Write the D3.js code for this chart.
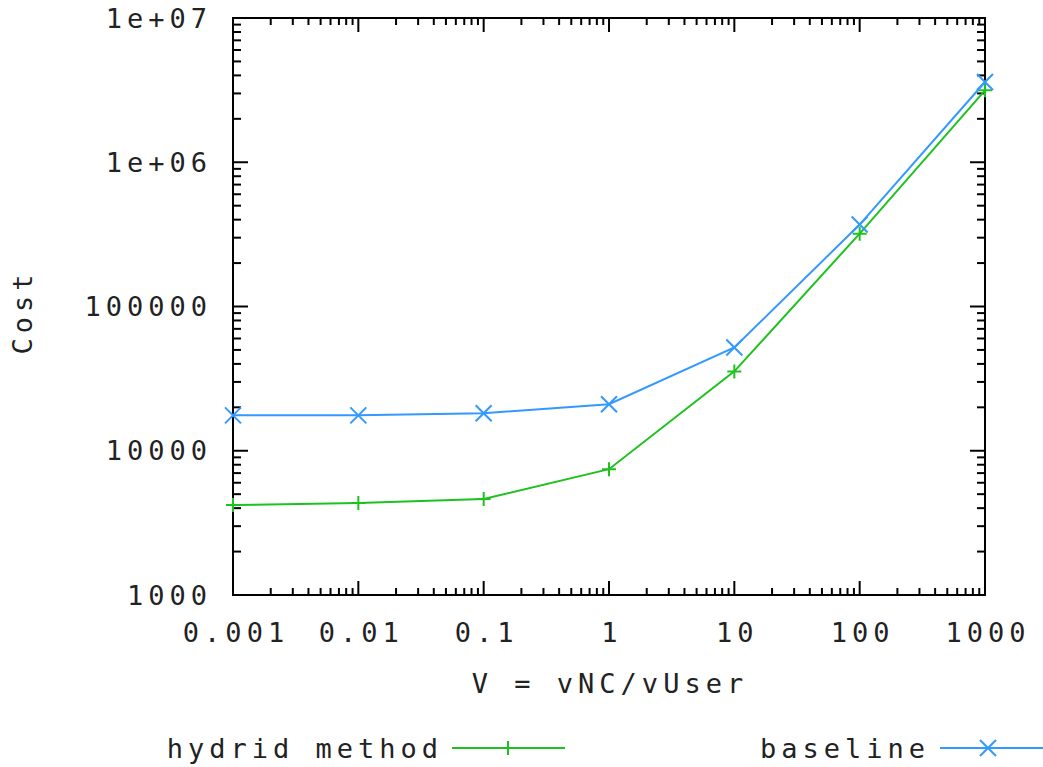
<!DOCTYPE html>
<html>
<head>
<meta charset="utf-8">
<script src="https://cdn.jsdelivr.net/npm/d3@7"></script>
<style>
  body { margin: 0; background: #fff; }
  text { font-family: "DejaVu Sans Mono", monospace; font-size: 27px; letter-spacing: 5px; fill: #222; }
</style>
</head>
<body>
<svg id="chart" width="1043" height="767"></svg>
<script>
// 横軸 V の値
const ratios = [0.001, 0.01, 0.1, 1, 10, 100, 1000];
// 各系列のコスト
const hybridCost   = [4200, 4350, 4630, 7450, 35500, 320000, 3150000];
const baselineCost = [17600, 17600, 18200, 21000, 52000, 370000, 3600000];
// 目盛りラベル
const xTickValues = [0.001, 0.01, 0.1, 1, 10, 100, 1000];
const xTickLabels = ["0.001", "0.01", "0.1", "1", "10", "100", "1000"];
const yTickValues = [1e3, 1e4, 1e5, 1e6, 1e7];
const yTickLabels = ["1000", "10000", "100000", "1e+06", "1e+07"];

const series = [
    { name: "hydrid method", values: hybridCost,   color: "#1ec21e", mark: "plus" },
    { name: "baseline",      values: baselineCost, color: "#3399ff", mark: "cross" },
];

const plotL = 233, plotR = 985, plotT = 18, plotB = 595;
const svg = d3.select("#chart");

const x = d3.scaleLog().domain([0.001, 1000]).range([plotL, plotR]);
const y = d3.scaleLog().domain([1e3, 1e7]).range([plotB, plotT]);

// minor ticks: 2..9 in each decade
function minorTicks(lo, hi) {
    let out = [];
    for (let d = lo; d < hi * 0.999; d *= 10)
        for (let k = 2; k <= 9; k++) out.push(d * k);
    return out;
}

const frame = svg.append("g").attr("class", "frame");

// y ticks on both sides
const yMinor = minorTicks(1e3, 1e7);
[[plotL, 1], [plotR, -1]].forEach(([px, dir]) => {
    frame.selectAll(null).data(yMinor).enter().append("line")
        .attr("x1", px).attr("x2", px + dir * 8)
        .attr("y1", d => y(d)).attr("y2", d => y(d))
        .attr("stroke", "#000").attr("stroke-width", 2);
    frame.selectAll(null).data(yTickValues).enter().append("line")
        .attr("x1", px).attr("x2", px + dir * 15)
        .attr("y1", d => y(d)).attr("y2", d => y(d))
        .attr("stroke", "#000").attr("stroke-width", 2);
});

// x ticks on bottom and top
const xMinor = minorTicks(0.001, 1000);
[[plotB, -1], [plotT, 1]].forEach(([py, dir]) => {
    frame.selectAll(null).data(xMinor).enter().append("line")
        .attr("y1", py).attr("y2", py + dir * 7)
        .attr("x1", d => x(d)).attr("x2", d => x(d))
        .attr("stroke", "#000").attr("stroke-width", 2);
    frame.selectAll(null).data(xTickValues).enter().append("line")
        .attr("y1", py).attr("y2", py + dir * 14)
        .attr("x1", d => x(d)).attr("x2", d => x(d))
        .attr("stroke", "#000").attr("stroke-width", 2);
});

frame.append("rect")
    .attr("x", plotL).attr("y", plotT)
    .attr("width", plotR - plotL).attr("height", plotB - plotT)
    .attr("fill", "none").attr("stroke", "#000").attr("stroke-width", 2);

// tick labels
svg.selectAll("text.ylab").data(yTickValues).enter().append("text")
    .attr("class", "ylab")
    .attr("x", 212).attr("y", d => y(d))
    .attr("dy", "0.36em").attr("text-anchor", "end")
    .text((d, i) => yTickLabels[i]);

svg.selectAll("text.xlab").data(xTickValues).enter().append("text")
    .attr("class", "xlab")
    .attr("x", d => x(d) + 3).attr("y", 642)
    .attr("text-anchor", "middle")
    .text((d, i) => xTickLabels[i]);

// axis titles
svg.append("text")
    .attr("x", 610).attr("y", 693).attr("text-anchor", "middle")
    .text("V = vNC/vUser");
svg.append("text")
    .attr("transform", "translate(32,312) rotate(-90)")
    .attr("text-anchor", "middle")
    .text("Cost");

function drawMark(g, mark, cx, cy, color) {
    const s = 7;
    if (mark === "plus") {
        g.append("path").attr("d", `M${cx - s},${cy}H${cx + s}M${cx},${cy - s}V${cy + s}`)
            .attr("stroke", color).attr("stroke-width", 2);
    } else {
        const c = 8;
        g.append("path").attr("d", `M${cx - c},${cy - c}L${cx + c},${cy + c}M${cx - c},${cy + c}L${cx + c},${cy - c}`)
            .attr("stroke", color).attr("stroke-width", 2);
    }
}

const line = d3.line().x((d, i) => x(ratios[i])).y(d => y(d));

series.forEach(s => {
    const g = svg.append("g");
    g.append("path").datum(s.values)
        .attr("d", line)
        .attr("fill", "none").attr("stroke", s.color).attr("stroke-width", 2);
    s.values.forEach((v, i) => drawMark(g, s.mark, x(ratios[i]), y(v), s.color));
});

// legend
const legend = [
    { textX: 443, lineX1: 452, lineX2: 565, markX: 508 },
    { textX: 930, lineX1: 940, lineX2: 1043, markX: 988 },
];
series.forEach((s, i) => {
    const L = legend[i], ly = 748;
    svg.append("text").attr("x", L.textX).attr("y", ly).attr("dy", "0.36em")
        .attr("text-anchor", "end").text(s.name);
    svg.append("line").attr("x1", L.lineX1).attr("x2", L.lineX2)
        .attr("y1", ly).attr("y2", ly)
        .attr("stroke", s.color).attr("stroke-width", 2);
    drawMark(svg, s.mark, L.markX, ly, s.color);
});
</script>
</body>
</html>
